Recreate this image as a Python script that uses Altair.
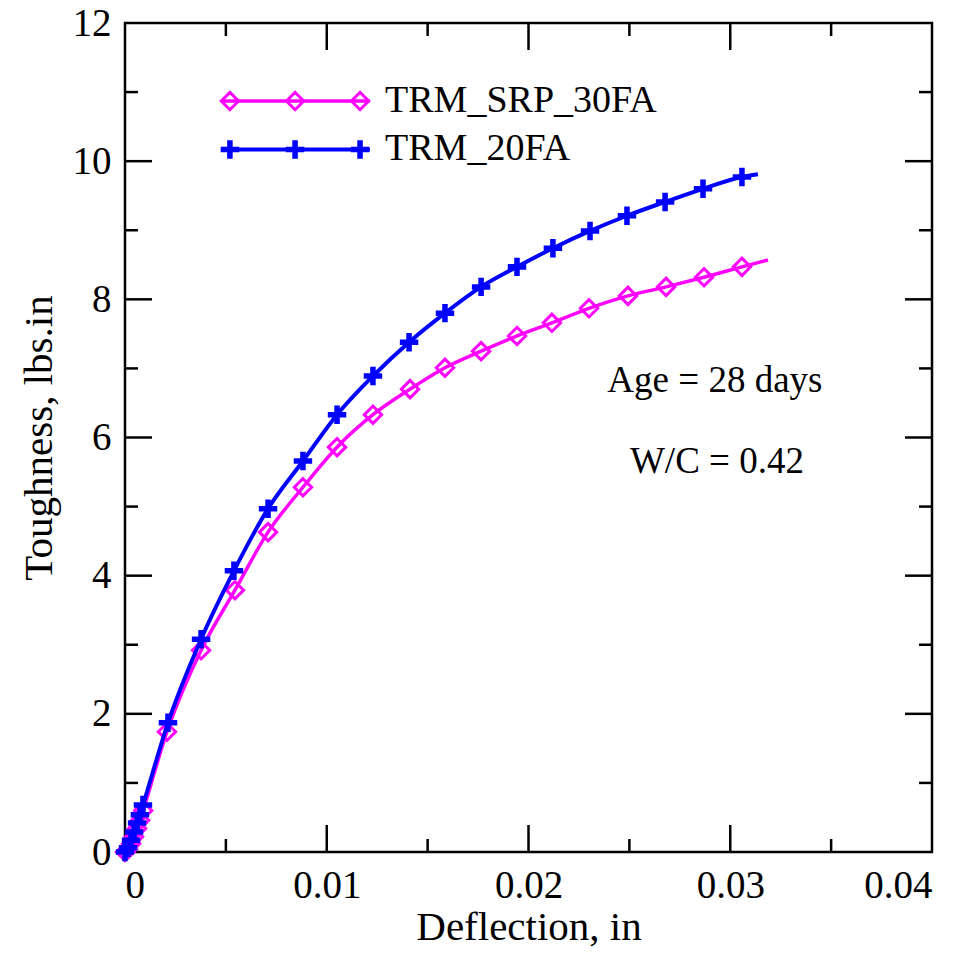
import altair as alt
import pandas as pd

# ---- data ----
blue_x = [0.0, 0.00015, 0.0003, 0.00045, 0.0006, 0.00074, 0.00089, 0.00213, 0.00377,
          0.0054, 0.00709, 0.00882, 0.01051, 0.01229, 0.01408, 0.01586, 0.01765, 0.01943,
          0.02121, 0.02305, 0.02488, 0.02677, 0.02865, 0.03058, 0.03137]
blue_y = [0.0, 0.06, 0.17, 0.29, 0.42, 0.54, 0.68, 1.87, 3.08,
          4.07, 4.97, 5.66, 6.33, 6.89, 7.38, 7.80, 8.18, 8.47,
          8.74, 8.99, 9.21, 9.41, 9.60, 9.77, 9.81]
mag_x = [0.0, 0.00015, 0.0003, 0.00045, 0.0006, 0.00075, 0.0009, 0.00208, 0.00377,
         0.00545, 0.00709, 0.00882, 0.01051, 0.01229, 0.01413, 0.01586, 0.01765, 0.01943,
         0.02116, 0.0230, 0.02493, 0.02682, 0.0287, 0.03058, 0.03187]
mag_y = [0.0, 0.04, 0.12, 0.22, 0.34, 0.46, 0.60, 1.74, 2.92,
         3.79, 4.63, 5.28, 5.86, 6.33, 6.70, 7.01, 7.25, 7.47,
         7.66, 7.87, 8.05, 8.18, 8.32, 8.47, 8.57]

series_names = ["TRM_SRP_30FA", "TRM_20FA"]
x_ticks_major = [0.0, 0.01, 0.02, 0.03, 0.04]
x_ticks_minor = [0.005, 0.015, 0.025, 0.035]
y_ticks_major = [0, 2, 4, 6, 8, 10, 12]
y_ticks_minor = [1, 3, 5, 7, 9, 11]

# legend sample positions (data units)
leg_line_x = [0.00481, 0.01214]
leg_mark_x = [0.0052, 0.00843, 0.01165]
leg_y = [10.87, 10.17]
leg_text_x = 0.01289
notes = ["Age = 28 days", "W/C = 0.42"]
notes_x = [0.02924, 0.02934]
notes_y = [6.82, 5.65]

W, H = 807, 829
MAG = "#FF00FF"
BLU = "#0000FF"
FONT = "Liberation Serif"

xs = alt.Scale(domain=[0, 0.04], nice=False, zero=False)
ys = alt.Scale(domain=[0, 12], nice=False, zero=False)

mag_df = pd.DataFrame({"x": mag_x, "y": mag_y})
blu_df = pd.DataFrame({"x": blue_x, "y": blue_y})

plus_path = "M-1,-0.3H-0.3V-1H0.3V-0.3H1V0.3H0.3V1H-0.3V0.3H-1Z"

X = alt.X("x:Q", scale=xs, title="Deflection, in",
          axis=alt.Axis(values=x_ticks_major, labelExpr="datum.value == 0 ? '0' : format(datum.value, '.2f')"))
Y = alt.Y("y:Q", scale=ys, title="Toughness, lbs.in",
          axis=alt.Axis(values=y_ticks_major, format="d"))

mag_line = alt.Chart(mag_df).mark_line(color=MAG, strokeWidth=3.5, interpolate="monotone").encode(x=X, y=Y)
mag_pts = alt.Chart(mag_df.iloc[:-1]).mark_point(shape="diamond", filled=False, color=MAG,
                                                 strokeWidth=3, size=300, opacity=1).encode(x=X, y=Y)
blu_line = alt.Chart(blu_df).mark_line(color=BLU, strokeWidth=4, interpolate="monotone").encode(x=X, y=Y)
blu_pts = alt.Chart(blu_df.iloc[:-1]).mark_point(shape=plus_path, filled=True, color=BLU,
                                                 size=340, opacity=1, strokeWidth=0).encode(x=X, y=Y)

# legend
lx = alt.X("x:Q", scale=xs)
ly = alt.Y("y:Q", scale=ys)
leg_mag_line = alt.Chart(pd.DataFrame({"x": leg_line_x, "y": [leg_y[0]] * 2})).mark_line(
    color=MAG, strokeWidth=3.5).encode(x=lx, y=ly)
leg_blu_line = alt.Chart(pd.DataFrame({"x": leg_line_x, "y": [leg_y[1]] * 2})).mark_line(
    color=BLU, strokeWidth=4).encode(x=lx, y=ly)
leg_mag_pts = alt.Chart(pd.DataFrame({"x": leg_mark_x, "y": [leg_y[0]] * 3})).mark_point(
    shape="diamond", filled=False, color=MAG, strokeWidth=3, size=300, opacity=1).encode(x=lx, y=ly)
leg_blu_pts = alt.Chart(pd.DataFrame({"x": leg_mark_x, "y": [leg_y[1]] * 3})).mark_point(
    shape=plus_path, filled=True, color=BLU, size=340, opacity=1, strokeWidth=0).encode(x=lx, y=ly)
leg_text = alt.Chart(pd.DataFrame({"x": [leg_text_x] * 2, "y": leg_y, "t": series_names})).mark_text(
    align="left", baseline="middle", font=FONT, fontSize=38, color="black").encode(x=lx, y=ly, text="t:N")

note_text = alt.Chart(pd.DataFrame({"x": notes_x, "y": notes_y, "t": notes})).mark_text(
    align="center", baseline="middle", font=FONT, fontSize=37, color="black").encode(x=lx, y=ly, text="t:N")

# inward ticks on all four sides
MAJ, MIN = 27, 13
def xticks(vals, length):
    d = pd.DataFrame({"x": vals})
    bot = alt.Chart(d).mark_rule(color="black", strokeWidth=2.5).encode(
        x=alt.X("x:Q", scale=xs), y=alt.value(H), y2=alt.value(H - length))
    top = alt.Chart(d).mark_rule(color="black", strokeWidth=2.5).encode(
        x=alt.X("x:Q", scale=xs), y=alt.value(0), y2=alt.value(length))
    return [bot, top]

def yticks(vals, length):
    d = pd.DataFrame({"y": vals})
    left = alt.Chart(d).mark_rule(color="black", strokeWidth=2.5).encode(
        y=alt.Y("y:Q", scale=ys), x=alt.value(0), x2=alt.value(length))
    right = alt.Chart(d).mark_rule(color="black", strokeWidth=2.5).encode(
        y=alt.Y("y:Q", scale=ys), x=alt.value(W), x2=alt.value(W - length))
    return [left, right]

ticks = xticks(x_ticks_major[1:-1], MAJ) + xticks(x_ticks_minor, MIN) + \
        yticks(y_ticks_major[1:-1], MAJ) + yticks(y_ticks_minor, MIN)

chart = alt.layer(
    *ticks,
    mag_line, mag_pts, blu_line, blu_pts,
    leg_mag_line, leg_mag_pts, leg_blu_line, leg_blu_pts, leg_text,
    note_text,
).properties(
    width=W, height=H,
    autosize=alt.AutoSizeParams(type="none"),
    padding={"left": 117, "top": 15, "right": 30, "bottom": 105},
).configure_view(
    stroke="black", strokeWidth=2.5
).configure_axis(
    grid=False, ticks=False, domain=False,
    labelFont=FONT, labelFontSize=39, labelColor="black",
    titleFont=FONT, titleFontSize=41, titleFontWeight="normal", titleColor="black",
).configure_axisX(
    labelPadding=14, titlePadding=2,
).configure_axisY(
    labelPadding=14, titlePadding=12,
)

chart.save("out.html", embed_options={"renderer": "svg", "actions": False})
